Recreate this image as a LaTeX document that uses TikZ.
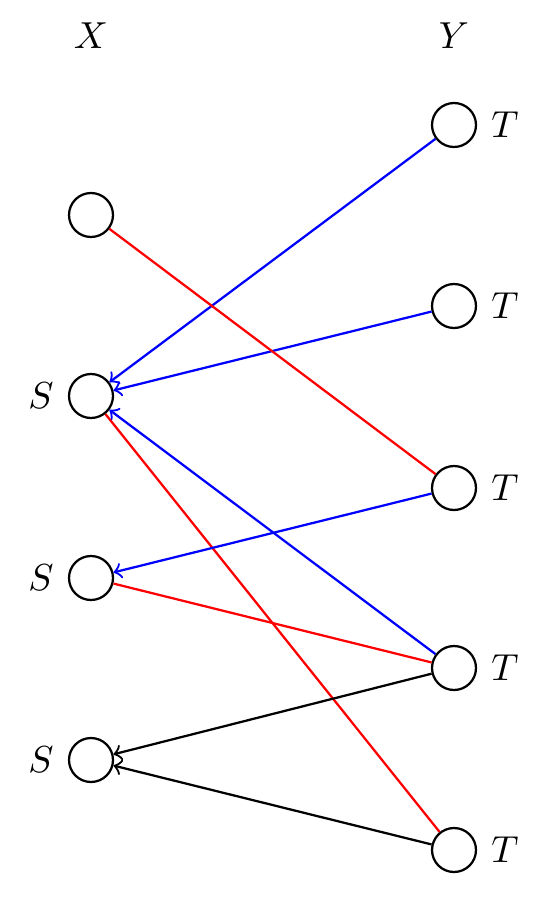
\documentclass[tikz,border=0pt]{standalone}
\begin{document}
\begin{tikzpicture}[x=0.266pt,y=-0.266pt,
  vtx/.style={circle,draw,semithick,inner sep=0pt,minimum size=11.7pt},
  lab/.style={inner sep=0pt},
  e/.style={semithick}]
\useasboundingbox (0,0) rectangle (550,900);
\node[lab] (hx) at (91,36) {$X$};
\node[lab] (hy) at (454,36) {$Y$};
\node[vtx] (x1) at (91,215) {};
\node[vtx] (x2) at (91,396) {};
\node[vtx] (x3) at (91,578) {};
\node[vtx] (x4) at (91,760) {};
\node[vtx] (y1) at (454,125) {};
\node[vtx] (y2) at (454,306) {};
\node[vtx] (y3) at (454,488) {};
\node[vtx] (y4) at (454,668) {};
\node[vtx] (y5) at (454,850) {};
\node[lab] (s2) at (41,396) {$S$};
\node[lab] (s3) at (41,578) {$S$};
\node[lab] (s4) at (41,760) {$S$};
\node[lab] (t1) at (505,125) {$T$};
\node[lab] (t2) at (505,306) {$T$};
\node[lab] (t3) at (505,488) {$T$};
\node[lab] (t4) at (505,668) {$T$};
\node[lab] (t5) at (505,850) {$T$};
\draw[e,blue,->] (y1) -- (x2);
\draw[e,blue,->] (y2) -- (x2);
\draw[e,red] (x1) -- (y3);
\draw[e,blue,->] (y4) -- (x2);
\draw[e,red] (x2) -- (y5);
\draw[e,blue,->] (y3) -- (x3);
\draw[e,red] (x3) -- (y4);
\draw[e,->] (y4) -- (x4);
\draw[e,->] (y5) -- (x4);
\end{tikzpicture}
\end{document}
